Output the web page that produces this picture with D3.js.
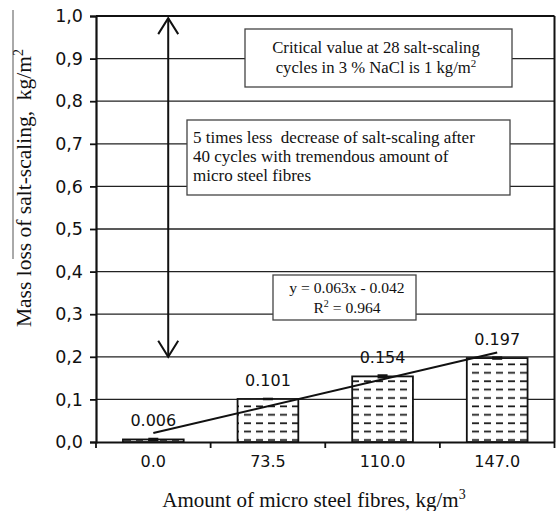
<!DOCTYPE html>
<html><head><meta charset="utf-8">
<script src="https://cdn.jsdelivr.net/npm/d3@7"></script>
<style>
body{margin:0;background:#fff;}
svg{display:block;}
</style></head>
<body><svg id="c" width="556" height="511"></svg>
<script>
const categories = ["0.0", "73.5", "110.0", "147.0"];
const values = [0.006, 0.101, 0.154, 0.197];
const errors = [0.004, 0.003, 0.005, 0.004];
const valueLabels = ["0.006", "0.101", "0.154", "0.197"];
const yTicks = [0, 0.1, 0.2, 0.3, 0.4, 0.5, 0.6, 0.7, 0.8, 0.9, 1.0];
const yTickLabels = ["0,0","0,1","0,2","0,3","0,4","0,5","0,6","0,7","0,8","0,9","1,0"];
const trendSlope = 0.063, trendIntercept = -0.042;

const svg = d3.select("#c");
const W = 556, H = 511;
const m = {left: 96, right: 1.5, top: 16, bottom: 69};
const iw = W - m.left - m.right, ih = H - m.top - m.bottom;
const serif = "'Liberation Serif', 'Times New Roman', serif";
const sans = "'DejaVu Sans', Verdana, sans-serif";

const x = d3.scaleBand().domain(categories).range([0, iw]).paddingInner(0).paddingOuter(0);
const y = d3.scaleLinear().domain([0, 1]).range([ih, 0]);
const barW = x.bandwidth() * 0.53;

// pattern
const defs = svg.append("defs");
const pat = defs.append("pattern").attr("id", "dash").attr("patternUnits", "userSpaceOnUse")
  .attr("width", 12).attr("height", 8.4).attr("x", 2);
pat.append("rect").attr("width", 12).attr("height", 8.4).attr("fill", "#fff");
pat.append("line").attr("x1", 2).attr("x2", 9).attr("y1", 4).attr("y2", 4)
  .attr("stroke", "#111").attr("stroke-width", 1.7);

// artifact line near y title
svg.append("line").attr("x1", 13).attr("x2", 13).attr("y1", 10).attr("y2", 259)
  .attr("stroke", "#555").attr("stroke-width", 1);

const g = svg.append("g").attr("transform", `translate(${m.left},${m.top})`);

// gridlines
g.selectAll("line.grid").data(yTicks.slice(1, -1)).enter().append("line")
  .attr("x1", 0).attr("x2", iw).attr("y1", d => y(d)).attr("y2", d => y(d))
  .attr("stroke", "#222").attr("stroke-width", 1.3);

// top & right border
g.append("line").attr("x1", 0).attr("x2", iw).attr("y1", y(1)).attr("y2", y(1))
  .attr("stroke", "#111").attr("stroke-width", 2);
g.append("line").attr("x1", iw).attr("x2", iw).attr("y1", y(1)).attr("y2", y(0))
  .attr("stroke", "#111").attr("stroke-width", 2);

// y axis
const yAxis = g.append("g").call(d3.axisLeft(y).tickValues(yTicks)
  .tickFormat((d, i) => yTickLabels[i]).tickSize(6).tickPadding(7));
yAxis.select(".domain").attr("stroke", "#111").attr("stroke-width", 2.2);
yAxis.selectAll(".tick line").attr("stroke", "#111").attr("stroke-width", 1.8);
yAxis.selectAll("text").attr("font-family", sans).attr("font-size", 17.5).attr("fill", "#111");

// x axis
const xAxis = g.append("g").attr("transform", `translate(0,${ih})`)
  .call(d3.axisBottom(x).tickSize(0).tickPadding(14));
xAxis.select(".domain").attr("stroke", "#111").attr("stroke-width", 2.2);
xAxis.selectAll("text").attr("font-family", sans).attr("font-size", 16).attr("fill", "#111");
const bounds = [0, ...categories.map(c => x(c) + x.bandwidth())];
xAxis.selectAll("line.bt").data(bounds).enter().append("line")
  .attr("x1", d => d).attr("x2", d => d).attr("y1", 0).attr("y2", 6)
  .attr("stroke", "#111").attr("stroke-width", 1.8);

// bars
g.selectAll("rect.bar").data(values).enter().append("rect")
  .attr("x", (d, i) => x(categories[i]) + (x.bandwidth() - barW) / 2)
  .attr("y", d => y(d)).attr("width", barW).attr("height", d => y(0) - y(d))
  .attr("fill", "url(#dash)").attr("stroke", "#111").attr("stroke-width", 1.8);

// error markers
g.selectAll("rect.err").data(values).enter().append("rect")
  .attr("x", (d, i) => x(categories[i]) + x.bandwidth() / 2 - 5)
  .attr("y", (d, i) => y(d + errors[i]))
  .attr("width", 10)
  .attr("height", (d, i) => y(d - errors[i]) - y(d + errors[i]))
  .attr("fill", "#111");

// trendline
const cx = i => x(categories[i]) + x.bandwidth() / 2;
const trend = d3.line().x(d => cx(d)).y(d => y(trendSlope * (d + 1) + trendIntercept));
g.append("path").datum([0, categories.length - 1]).attr("d", trend)
  .attr("fill", "none").attr("stroke", "#111").attr("stroke-width", 2);

// value labels
g.selectAll("text.vl").data(values).enter().append("text")
  .attr("x", (d, i) => cx(i)).attr("y", d => y(d) - 13)
  .attr("text-anchor", "middle").attr("font-family", sans).attr("font-size", 16)
  .attr("fill", "#111").text((d, i) => valueLabels[i]);

// double arrow
const ax = x(categories[0]) + x.bandwidth() * 0.63;
const aTop = y(0.995), aBot = y(0.2);
g.append("line").attr("x1", ax).attr("x2", ax).attr("y1", aTop).attr("y2", aBot)
  .attr("stroke", "#111").attr("stroke-width", 2);
g.append("path").attr("d", `M${ax - 10},${aTop + 16} L${ax},${aTop} L${ax + 10},${aTop + 16}`)
  .attr("fill", "none").attr("stroke", "#111").attr("stroke-width", 2);
g.append("path").attr("d", `M${ax - 10},${aBot - 16} L${ax},${aBot} L${ax + 10},${aBot - 16}`)
  .attr("fill", "none").attr("stroke", "#111").attr("stroke-width", 2);

// text boxes (absolute svg coords)
function box(x0, y0, w, h) {
  svg.append("rect").attr("x", x0).attr("y", y0).attr("width", w).attr("height", h)
    .attr("fill", "#fff").attr("stroke", "#444").attr("stroke-width", 1.3);
}
box(245, 29, 267, 58);
const t1 = svg.append("g").attr("font-family", serif).attr("font-size", 16.7).attr("fill", "#111").attr("text-anchor", "middle");
t1.append("text").attr("x", 376).attr("y", 53).text("Critical value at 28 salt-scaling");
const t1b = t1.append("text").attr("x", 376).attr("y", 73);
t1b.append("tspan").text("cycles in 3 % NaCl is 1 kg/m");
t1b.append("tspan").attr("dy", -6).attr("font-size", 11).text("2");

box(187, 120, 323, 75);
const t2 = svg.append("g").attr("font-family", serif).attr("font-size", 17).attr("fill", "#111");
t2.append("text").attr("x", 193).attr("y", 143).attr("xml:space", "preserve").text("5 times less  decrease of salt-scaling after");
t2.append("text").attr("x", 193).attr("y", 162).text("40 cycles with tremendous amount of");
t2.append("text").attr("x", 193).attr("y", 181).text("micro steel fibres");

box(273, 275, 143, 45);
const t3 = svg.append("g").attr("font-family", serif).attr("font-size", 15.6).attr("fill", "#111").attr("text-anchor", "middle");
t3.append("text").attr("x", 347).attr("y", 293).text("y = 0.063x - 0.042");
const t3b = t3.append("text").attr("x", 347).attr("y", 313);
t3b.append("tspan").text("R");
t3b.append("tspan").attr("dy", -6).attr("font-size", 10).text("2");
t3b.append("tspan").attr("dy", 6).text(" = 0.964");

// axis titles
const yt = svg.append("text").attr("transform", "translate(31,188) rotate(-90)")
  .attr("text-anchor", "middle").attr("font-family", serif).attr("font-size", 21.5).attr("fill", "#111")
  .attr("xml:space", "preserve");
yt.append("tspan").text("Mass loss of salt-scaling,  kg/m");
yt.append("tspan").attr("dy", -8).attr("font-size", 14).text("2");

const xt = svg.append("text").attr("x", 314).attr("y", 507)
  .attr("text-anchor", "middle").attr("font-family", serif).attr("font-size", 21).attr("fill", "#111");
xt.append("tspan").text("Amount of micro steel fibres, kg/m");
xt.append("tspan").attr("dy", -8).attr("font-size", 14).text("3");
</script></body></html>
